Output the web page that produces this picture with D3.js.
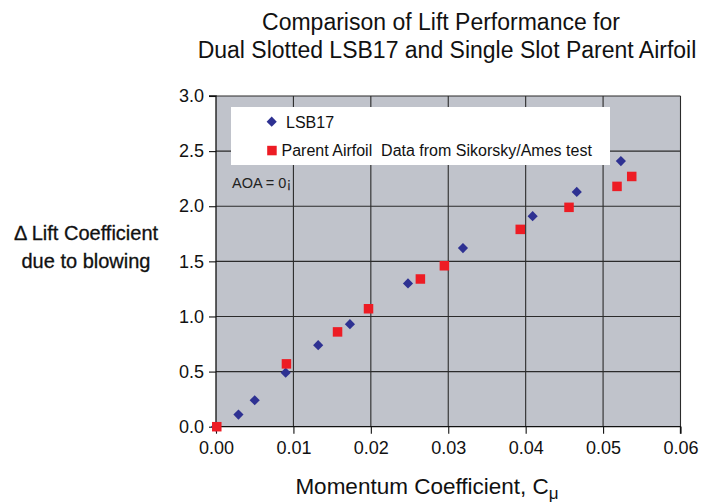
<!DOCTYPE html>
<html>
<head>
<meta charset="utf-8">
<script src="https://cdn.jsdelivr.net/npm/d3@7"></script>
<style>
  html, body { margin: 0; padding: 0; background: #fff; }
  svg { display: block; font-family: Arial, "Liberation Sans", sans-serif; }
</style>
</head>
<body>
<svg id="chart" width="720" height="504"></svg>
<script>
// Momentum coefficient vs. lift-coefficient increment
const lsbCmu = [0.0000, 0.0029, 0.0050, 0.0090, 0.0132, 0.0173, 0.0248, 0.0319, 0.0409, 0.0466, 0.0523];
const lsbDCl = [0.00, 0.11, 0.24, 0.49, 0.74, 0.93, 1.30, 1.62, 1.91, 2.13, 2.41];

const parentCmu = [0.0001, 0.0091, 0.0157, 0.0197, 0.0264, 0.0295, 0.0393, 0.0456, 0.0518, 0.0537];
const parentDCl = [0.00, 0.57, 0.86, 1.07, 1.34, 1.46, 1.79, 1.99, 2.18, 2.27];

const xTicks = [0, 0.01, 0.02, 0.03, 0.04, 0.05, 0.06];
const yTicks = [0, 0.5, 1.0, 1.5, 2.0, 2.5, 3.0];

const seriesNames = ["LSB17", "Parent Airfoil  Data from Sikorsky/Ames test"];
const titleLines = ["Comparison of Lift Performance for", "Dual Slotted LSB17 and Single Slot Parent Airfoil"];

const svg = d3.select("#chart");
const plot = { left: 216, right: 680.5, top: 96, bottom: 426.7 };

const x = d3.scaleLinear().domain([0, 0.06]).range([plot.left, plot.right]);
const y = d3.scaleLinear().domain([0, 3]).range([plot.bottom, plot.top]);

// plot background
svg.append("rect")
  .attr("x", plot.left).attr("y", plot.top)
  .attr("width", plot.right - plot.left).attr("height", plot.bottom - plot.top)
  .attr("fill", "#c0c3cb");

// grid
const grid = svg.append("g").attr("stroke", "#2b2b2b").attr("stroke-width", 1.1);
grid.selectAll("line.v").data(xTicks.slice(1)).join("line")
  .attr("x1", d => x(d)).attr("x2", d => x(d))
  .attr("y1", plot.top).attr("y2", plot.bottom);
grid.selectAll("line.h").data(yTicks.slice(1)).join("line")
  .attr("x1", plot.left).attr("x2", plot.right)
  .attr("y1", d => y(d)).attr("y2", d => y(d));

// axes
const xAxis = d3.axisBottom(x).tickValues(xTicks).tickFormat(d3.format(".2f")).tickSize(7).tickPadding(8);
const yAxis = d3.axisLeft(y).tickValues(yTicks).tickFormat(d3.format(".1f")).tickSize(7).tickPadding(5);

const gx = svg.append("g").attr("transform", `translate(0,${plot.bottom})`).call(xAxis);
const gy = svg.append("g").attr("transform", `translate(${plot.left},0)`).call(yAxis);
[gx, gy].forEach(g => {
  g.select(".domain").attr("stroke", "#111").attr("stroke-width", 1.3);
  g.selectAll(".tick line").attr("stroke", "#111").attr("stroke-width", 1.1);
  g.selectAll(".tick text").attr("fill", "#111").attr("font-size", 18)
    .attr("font-family", "Arial, 'Liberation Sans', sans-serif");
});
gy.select(".domain").attr("d", `M-7,${plot.top}H0V${plot.bottom}`);
gx.select(".domain").attr("d", `M${plot.left},0H${plot.right}V7`);

// markers
const diamond = d3.symbol().type(d3.symbolDiamond2).size(66);
svg.append("g").selectAll("path").data(lsbCmu.map((c, i) => [c, lsbDCl[i]])).join("path")
  .attr("d", diamond)
  .attr("transform", d => `translate(${x(d[0])},${y(d[1])})`)
  .attr("fill", "#2e3192");

const sq = 9.5;
svg.append("g").selectAll("rect").data(parentCmu.map((c, i) => [c, parentDCl[i]])).join("rect")
  .attr("x", d => x(d[0]) - sq / 2).attr("y", d => y(d[1]) - sq / 2)
  .attr("width", sq).attr("height", sq)
  .attr("fill", "#ed1c24");

// legend
const lg = svg.append("g");
lg.append("rect").attr("x", 231).attr("y", 107).attr("width", 379).attr("height", 58).attr("fill", "#fff");
lg.append("path").attr("d", diamond).attr("transform", "translate(271.7,121.7)").attr("fill", "#2e3192");
lg.append("rect").attr("x", 267.2).attr("y", 145.8).attr("width", 9.5).attr("height", 9.5).attr("fill", "#ed1c24");
lg.append("text").attr("x", 286).attr("y", 127.5).attr("font-size", 16).attr("fill", "#111").text(seriesNames[0]);
lg.append("text").attr("x", 281.5).attr("y", 156).attr("font-size", 16).attr("fill", "#111")
  .attr("xml:space", "preserve").style("white-space", "pre").text(seriesNames[1]);

// annotation
svg.append("text").attr("x", 232).attr("y", 188).attr("font-size", 14.5).attr("fill", "#222").text("AOA = 0¡");

// title
svg.append("g").selectAll("text").data(titleLines).join("text")
  .attr("x", (d, i) => i === 0 ? 441 : 447).attr("y", (d, i) => 30 + i * 27.5)
  .attr("text-anchor", "middle").attr("font-size", 23).attr("fill", "#111")
  .text(d => d);

// y label
svg.append("g").selectAll("text").data(["Δ Lift Coefficient", "due to blowing"]).join("text")
  .attr("x", 86).attr("y", (d, i) => 240 + i * 27.5)
  .attr("text-anchor", "middle").attr("font-size", 20).attr("fill", "#111")
  .attr("stroke", "#111").attr("stroke-width", 0.3)
  .text(d => d);

// x label
const xl = svg.append("text").attr("x", 427).attr("y", 494)
  .attr("text-anchor", "middle").attr("font-size", 22.5).attr("fill", "#111");
xl.append("tspan").text("Momentum Coefficient, C");
xl.append("tspan").attr("dy", 5).attr("font-size", 17).text("μ");
</script>
</body>
</html>
